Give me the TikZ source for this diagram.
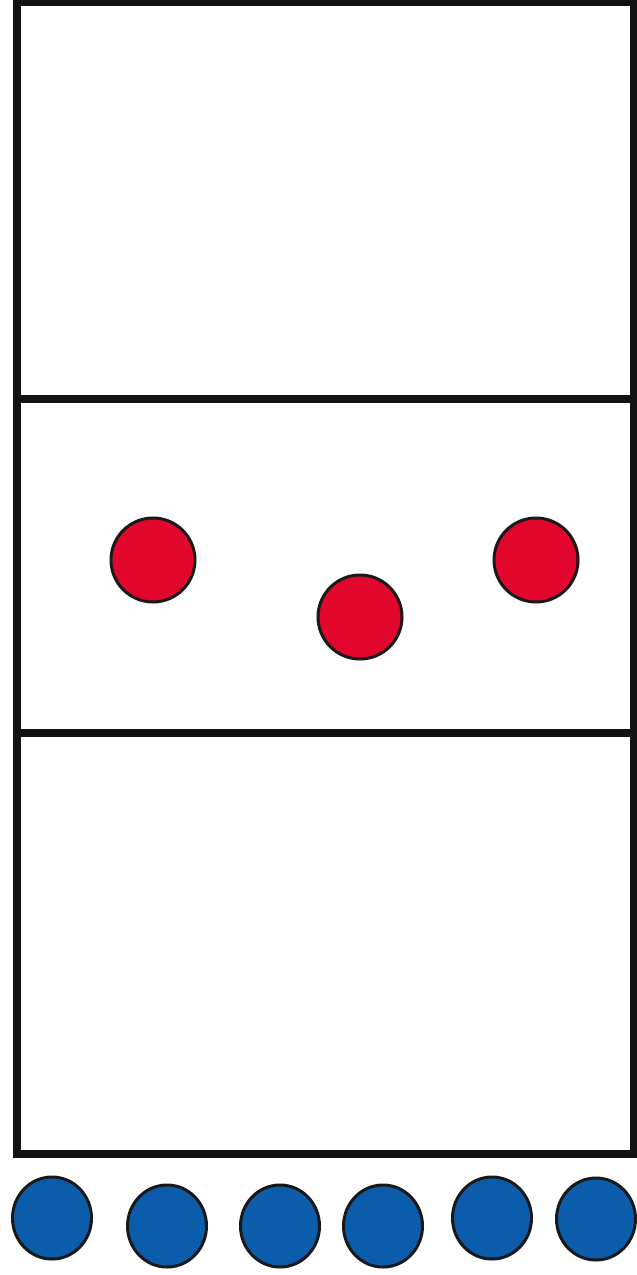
\documentclass[tikz,border=0pt]{standalone}
\definecolor{dotred}{HTML}{E2062C}
\definecolor{dotblue}{HTML}{0B5CAB}
\tikzset{
  frame/.style={draw=black!93, line width=8pt},
  reddot/.style={circle, draw=black!90, line width=3pt, fill=dotred, minimum size=84pt, inner sep=0pt},
  bluedot/.style={ellipse, draw=black!90, line width=3pt, fill=dotblue, minimum width=79pt, minimum height=82pt, inner sep=0pt}
}
\usetikzlibrary{shapes.geometric}
\begin{document}
\begin{tikzpicture}[x=1pt,y=-1pt]
\useasboundingbox (0,0) rectangle (637,1275);
\fill[white] (0,0) rectangle (637,1275);
% frame
\coordinate (tl) at (17,2);
\coordinate (br) at (634,1154);
\draw[frame] (tl) rectangle (br);
\coordinate (d1l) at (17,399);
\coordinate (d1r) at (634,399);
\coordinate (d2l) at (17,733);
\coordinate (d2r) at (634,733);
\draw[frame] (d1l) -- (d1r);
\draw[frame] (d2l) -- (d2r);
% red dots
\node[reddot] (r1) at (153,560) {};
\node[reddot] (r2) at (360,617) {};
\node[reddot] (r3) at (536,560) {};
% blue dots
\node[bluedot] (b1) at (52,1218) {};
\node[bluedot] (b2) at (167,1226) {};
\node[bluedot] (b3) at (280,1226) {};
\node[bluedot] (b4) at (383,1226) {};
\node[bluedot] (b5) at (492,1218) {};
\node[bluedot] (b6) at (596,1219) {};
\end{tikzpicture}
\end{document}
